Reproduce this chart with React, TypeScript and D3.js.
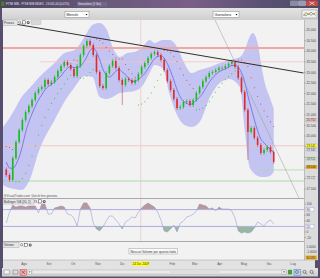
import React from "react";
import * as d3 from "d3";

// ---------------- data ----------------
const candleStart = "2009-07-10";
const candleStepDays = 4;
const firstOpen = 18420;
const closes = [
  18160, 17930, 18960, 19720, 20280, 20750, 21130, 21410, 21700, 22030,
  22220, 22310, 22640, 22450, 22550, 22780, 23070, 23300, 23490, 23350,
  23160, 22830, 23300, 23820, 24250, 24480, 24290, 23820, 23020, 22360,
  22260, 22970, 23300, 23540, 23210, 22640, 22410, 22690, 22640, 22500,
  22640, 22930, 23260, 23440, 23680, 23870, 23960, 23820, 23590, 23110,
  22590, 22170, 21750, 21320, 21370, 21600, 21650, 21460, 21700, 22030,
  22310, 22590, 22780, 22970, 23020, 23110, 23210, 23210, 23300, 23400,
  23490, 23260, 22740, 22080, 21230, 20190, 20380, 19910, 19580, 19200,
  19340, 19480, 19250, 18770,
];
const priorCloses = [19300, 19100, 18800, 18500];
const longWickIndex = [36, 75];
const longWickLow = [21460, 18870];

const bandDates = [
  "2009-07-06", "2009-07-14", "2009-07-20", "2009-07-29", "2009-08-08", "2009-08-20",
  "2009-09-08", "2009-09-20", "2009-10-03", "2009-10-15", "2009-10-25", "2009-11-03",
  "2009-11-12", "2009-11-19", "2009-11-28", "2009-12-07", "2009-12-16", "2009-12-26",
  "2010-01-04", "2010-01-10", "2010-01-20", "2010-01-29", "2010-02-07", "2010-02-16",
  "2010-02-25", "2010-03-07", "2010-03-20", "2010-04-01", "2010-04-13", "2010-04-26",
  "2010-05-02", "2010-05-08", "2010-05-12", "2010-05-18", "2010-05-23", "2010-05-27",
  "2010-06-02", "2010-06-07",
];
const bandUpper = [
  20425, 20849, 21226, 21840, 22264, 22783, 23443, 23915, 24057, 24670, 25236, 25330,
  25000, 24198, 23726, 23915, 23962, 24198, 24528, 24387, 24528, 24528, 24198, 23443,
  22972, 23113, 23255, 23443, 23585, 23726, 24057, 24670, 24858, 24387, 23255, 22500,
  21840, 21300,
];
const bandLower = [
  17689, 17547, 17500, 17453, 17925, 19340, 20755, 21604, 22311, 22830, 22780, 21840,
  21745, 21840, 22028, 22075, 22123, 22358, 22972, 23349, 23208, 21934, 20990, 20519,
  20425, 20660, 21840, 22500, 22689, 22311, 20283, 18538, 18302, 18113, 18066, 18066,
  18113, 18302,
];

const pctB = [
  32, 71, 96, 89, 93, 93, 89, 93, 93, 93,
  68, 100, 100, 64, 64, 86, 89, 93, 89, 64,
  61, 50, 21, 82, 104, 104, 86, 32, 11, 4,
  18, 39, 57, 57, 43, 29, 11, 36, 43, 54,
  50, 71, 86, 96, 104, 96, 89, 71, 43, 4,
  0, 11, 25, 0, 32, 39, 54, 57, 64, 75,
  100, 96, 93, 82, 86, 75, 89, 82, 82, 82,
  75, 50, 4, -4, 0, -4, 0, 14, 36, 29,
  21, 36, 43, 29,
];

const priceTicks = [17500, 18000, 18500, 19000, 19500, 20000, 20500, 21000, 21500, 22000, 22500, 23000, 23500, 24000, 24500, 25000];
const pctTicks = [100, 60, 40, 0, -20];
const pctLevels = [80, 20];
const pctLevelLabels = ["80", "20"];

const monthDates = ["2009-08-01", "2009-09-01", "2009-10-01", "2009-11-01", "2009-12-01", "2010-01-01", "2010-02-01", "2010-03-01", "2010-04-01", "2010-05-01", "2010-06-01", "2010-07-01"];
const monthLabels = ["Ago", "Set", "Ott", "Nov", "Dic", "Gen", "Feb", "Mar", "Apr", "Mag", "Giu", "Lug"];

const levelValues = [24150, 23500, 19541, 17877, 18400];
const levelStarts = ["2009-07-01", "2009-08-21", "2009-07-01", "2009-07-01", "2010-05-17"];
const levelColors = ["#f2a6a6", "#f2c4c4", "#f0bcbc", "#9ad49a", "#a8dca8"];
const levelWidths = [1.8, 0.8, 0.8, 0.8, 0.8];

const trendADates = ["2009-07-06", "2010-07-14"];
const trendAValues = [25377, 22972];
const trendBDates = ["2010-03-25", "2010-07-09"];
const trendBValues = [25566, 17028];

const crossDate = "2009-12-24";
const crossLabel = "24 Dic 2009";

const markerValues = [20750, 19541, 19340, 18920, 18540, 18020];
const markerFills = ["#f6c8c8", "#ffff30", "#e8e8fa", "#d6f0d6", "#f0a800", "#f8f8f8"];

const volLabels = ["1.0000", "-1.0000"];
const volLabelY = [248, 253];

// ---------------- helpers ----------------
const parse = d3.timeParse("%Y-%m-%d");
const fmtPrice = (v: number) => d3.format(",")(Math.round(v)).replace(/,/g, ".");
const FONT = "Liberation Sans, Arial, sans-serif";

function psar(highs: number[], lows: number[], initSar: number, step = 0.02, max = 0.2) {
  const out: { sar: number; up: boolean }[] = [];
  let up = false;
  let af = step;
  let ep = lows[0];
  let sar = initSar;
  out.push({ sar, up });
  for (let i = 1; i < highs.length; i++) {
    sar = sar + af * (ep - sar);
    if (up) {
      sar = Math.min(sar, lows[i - 1], lows[Math.max(0, i - 2)]);
      if (lows[i] < sar) { up = false; sar = ep; ep = lows[i]; af = step; }
      else if (highs[i] > ep) { ep = highs[i]; af = Math.min(af + step, max); }
    } else {
      sar = Math.max(sar, highs[i - 1], highs[Math.max(0, i - 2)]);
      if (highs[i] > sar) { up = true; sar = ep; ep = highs[i]; af = step; }
      else if (lows[i] < ep) { ep = lows[i]; af = Math.min(af + step, max); }
    }
    out.push({ sar, up });
  }
  return out;
}

export default function App() {
  const X0 = 3, X1 = 304;
  const MT = 20, MB = 198;
  const IT = 199, IB = 241;
  const VT = 242, VB = 260;

  const x = d3.scaleTime().domain([new Date(2009, 6, 1), new Date(2010, 7, 1)]).range([-0.97, 318]);
  const y = d3.scaleLinear().domain([17500, 25000]).range([189, 30]);
  const yb = d3.scaleLinear().domain([-20, 100]).range([237.6, 204]);

  const start = parse(candleStart)!;
  const candles = closes.map((c, i) => {
    const date = d3.timeDay.offset(start, i * candleStepDays);
    const open = i === 0 ? firstOpen : closes[i - 1];
    const k = longWickIndex.indexOf(i);
    const high = Math.max(open, c) + 90;
    const low = k >= 0 ? longWickLow[k] : Math.min(open, c) - 90;
    return { date, open, close: c, high, low };
  });

  const all = [...priorCloses, ...closes];
  const P = priorCloses.length;
  const ma = closes.map((_, i) => d3.mean(all.slice(i + P - 4, i + P + 1)) as number);

  const sar = psar(candles.map(d => d.high), candles.map(d => d.low), 19500, 0.03, 0.2);

  const band = bandDates.map((d, i) => ({ date: parse(d)!, hi: bandUpper[i], lo: bandLower[i] }));
  const bandArea = d3.area<any>().x(d => x(d.date)).y0(d => y(d.lo)).y1(d => y(d.hi)).curve(d3.curveMonotoneX)(band) || "";

  const maLine = d3.line<number>().x((_, i) => x(candles[i].date)).y(d => y(d)).curve(d3.curveMonotoneX)(ma) || "";

  const pctLine = d3.line<number>().x((_, i) => x(candles[i].date)).y(d => yb(d))(pctB) || "";
  const pctAreaHi = d3.area<number>().x((_, i) => x(candles[i].date)).y0(yb(80)).y1(d => yb(d))(pctB) || "";
  const pctAreaLo = d3.area<number>().x((_, i) => x(candles[i].date)).y0(yb(20)).y1(d => yb(d))(pctB) || "";

  const crossX = x(parse(crossDate)!);
  const visibleTicks = priceTicks.filter(v => markerValues.every(m => Math.abs(y(m) - y(v)) > 4.2));
  const visibleMonths = monthDates
    .map((d, i) => ({ xx: x(parse(d)!), label: monthLabels[i] }))
    .filter(m => Math.abs(m.xx - crossX) > 14);

  const iconRow = (x0: number, y0: number) => (
    <g>
      <circle cx={x0 + 1.6} cy={y0 + 2.2} r={1.1} fill="none" stroke="#555" strokeWidth={0.5} />
      <line x1={x0 + 2.4} y1={y0 + 3} x2={x0 + 3.3} y2={y0 + 4} stroke="#555" strokeWidth={0.5} />
      <rect x={x0 + 4.5} y={y0 + 0.8} width={3} height={3.2} fill="#fff" stroke="#444" strokeWidth={0.5} />
      <circle cx={x0 + 10.2} cy={y0 + 2.4} r={1.5} fill="#555" />
      <circle cx={x0 + 10.2} cy={y0 + 2.4} r={0.6} fill="#ddd" />
    </g>
  );

  return (
    <svg width={320} height={278} style={{ position: "fixed", left: 0, top: 0 }} fontFamily={FONT}>
      <defs>
        <linearGradient id="title" x1="0" x2="1" y1="0" y2="0">
          <stop offset="0" stopColor="#4b4460" />
          <stop offset="0.35" stopColor="#6a5a7c" />
          <stop offset="0.6" stopColor="#7a5e86" />
          <stop offset="0.8" stopColor="#5c5274" />
          <stop offset="1" stopColor="#4c4a66" />
        </linearGradient>
        <linearGradient id="tool" x1="0" x2="0" y1="0" y2="1">
          <stop offset="0" stopColor="#e4e4e4" />
          <stop offset="1" stopColor="#cfcfcf" />
        </linearGradient>
        <clipPath id="mainClip"><rect x={X0} y={MT} width={X1 - X0} height={MB - MT} /></clipPath>
        <clipPath id="indClip"><rect x={X0} y={IT} width={X1 - X0} height={IB - IT} /></clipPath>
        <clipPath id="above80"><rect x={X0} y={IT} width={X1 - X0} height={yb(80) - IT} /></clipPath>
        <clipPath id="below20"><rect x={X0} y={yb(20)} width={X1 - X0} height={IB - yb(20)} /></clipPath>
      </defs>

      {/* window frame */}
      <rect x={0} y={0} width={320} height={278} fill="#574e6e" />
      <rect x={0} y={0} width={320} height={8} fill="url(#title)" />
      <rect x={1} y={1.5} width={3.5} height={4.5} fill="#2a8a2a" />
      <rect x={2.2} y={2.5} width={1} height={3.5} fill="#e03030" />
      <text x={6} y={5.4} fontSize={2.8} fill="#e8e8f0">FTSE MIB - FTSE MIB INDEX - 19.541,00 (0,01%)</text>
      <rect x={77} y={1.8} width={30} height={4.8} fill="#7a7090" opacity={0.6} />
      <text x={78} y={5.4} fontSize={2.8} fill="#e8e8f0">Giornaliero (1 Giu)</text>
      <rect x={290} y={0.5} width={8} height={5.5} rx={1} fill="#8a8aa0" />
      <rect x={298} y={0.5} width={8} height={5.5} rx={1} fill="#9a9ab0" />
      <rect x={306} y={0.5} width={12} height={5.5} rx={1} fill="#c84848" />
      <line x1={309.5} y1={1.8} x2={314.5} y2={4.8} stroke="#fff" strokeWidth={0.6} />
      <line x1={314.5} y1={1.8} x2={309.5} y2={4.8} stroke="#fff" strokeWidth={0.6} />

      {/* top toolbar */}
      <rect x={2} y={8} width={316} height={12} fill="url(#tool)" />
      <rect x={65} y={11.5} width={24} height={6} fill="#fff" stroke="#8a8a8a" strokeWidth={0.5} />
      <text x={66.5} y={16} fontSize={3.4} fill="#222">Mensile</text>
      <path d="M85.5 14 L87.5 14 L86.5 15.4 Z" fill="#222" />
      <rect x={213} y={11.5} width={26} height={6} fill="#fff" stroke="#8a8a8a" strokeWidth={0.5} />
      <text x={214.5} y={16} fontSize={3.4} fill="#222">Giornaliero</text>
      <path d="M235.5 14 L237.5 14 L236.5 15.4 Z" fill="#222" />
      <rect x={302} y={10} width={15} height={8} fill="#f0f0f0" stroke="#909090" strokeWidth={0.5} />
      <path d="M303.5 16 L306 12.5 L308.5 15 L311 12 L313.5 14.5 L315.5 12.5" fill="none" stroke="#d04040" strokeWidth={0.6} />
      <path d="M303.5 14.5 L306 16 L308.5 13 L311 15.5 L313.5 13 L315.5 15.5" fill="none" stroke="#30a030" strokeWidth={0.6} />

      {/* right axis column */}
      <rect x={X1} y={MT} width={14} height={VB - MT} fill="#dcdcdc" />
      <line x1={X1 + 0.3} y1={MT} x2={X1 + 0.3} y2={VB} stroke="#9a9a9a" strokeWidth={0.6} />

      {/* ---------- main panel ---------- */}
      <rect x={X0} y={MT} width={X1 - X0} height={MB - MT} fill="#f2f2f2" />
      <g clipPath="url(#mainClip)">
        <path d={bandArea} fill="#c4c4f2" />
        {levelValues.map((v, i) => (
          <line key={"lv" + i} x1={Math.max(X0, x(parse(levelStarts[i])!))} x2={X1} y1={y(v)} y2={y(v)} stroke={levelColors[i]} strokeWidth={levelWidths[i]} />
        ))}
        <line x1={crossX} x2={crossX} y1={MT} y2={MB} stroke="#e8c4c4" strokeWidth={0.7} />
        <path d={maLine} fill="none" stroke="#4a4ae0" strokeWidth={0.6} />
        {candles.map((d, i) => {
          const up = d.close >= d.open;
          const col = up ? "#14c014" : "#e02a2a";
          const cx = x(d.date);
          const top = y(Math.max(d.open, d.close));
          const bot = y(Math.min(d.open, d.close));
          return (
            <g key={"c" + i}>
              <line x1={cx} x2={cx} y1={y(d.high)} y2={y(d.low)} stroke={up ? "#109010" : "#a02020"} strokeWidth={0.45} />
              <rect x={cx - 0.8} y={top} width={1.6} height={Math.max(0.6, bot - top)} fill={col} />
            </g>
          );
        })}
        {sar.map((s, i) => (
          <circle key={"s" + i} cx={x(candles[i].date)} cy={y(s.sar)} r={0.5} fill={s.up ? "#22c022" : "#e03030"} />
        ))}
        <line x1={x(parse(trendADates[0])!)} y1={y(trendAValues[0])} x2={x(parse(trendADates[1])!)} y2={y(trendAValues[1])} stroke="#1a1a1a" strokeWidth={0.9} />
        <line x1={x(parse(trendBDates[0])!)} y1={y(trendBValues[0])} x2={x(parse(trendBDates[1])!)} y2={y(trendBValues[1])} stroke="#9a9a9a" strokeWidth={0.5} />
      </g>
      <text x={X0 + 0.5} y={196.6} fontSize={3} fill="#555">@VisualTrader.com: Dati di fine giornata</text>
      <rect x={X0} y={MT} width={14.5} height={5.2} fill="#e6e6e6" stroke="#9a9a9a" strokeWidth={0.4} />
      <text x={X0 + 1} y={MT + 4} fontSize={3.2} fill="#333">Prezzo</text>
      {iconRow(18, MT)}
      <rect x={31} y={MT + 0.6} width={10} height={4} fill="#d8d8d8" stroke="#aaa" strokeWidth={0.3} />

      {/* price axis */}
      {priceTicks.map((v) => (
        <line key={"ptl" + v} x1={X1 + 0.5} x2={X1 + 2} y1={y(v)} y2={y(v)} stroke="#666" strokeWidth={0.4} />
      ))}
      {visibleTicks.map((v) => (
        <text key={"pt" + v} x={X1 + 2.4} y={y(v) + 1.2} fontSize={3.1} fill="#444">{fmtPrice(v)}</text>
      ))}
      {markerValues.map((v, i) => (
        <g key={"mk" + i}>
          <rect x={X1 + 2} y={y(v) - 1.8} width={11} height={3.6} fill={markerFills[i]} stroke="#9a9a9a" strokeWidth={0.3} />
          <text x={X1 + 2.6} y={y(v) + 1.05} fontSize={2.9} fill="#333">{fmtPrice(v)}</text>
        </g>
      ))}

      {/* panel separators */}
      <rect x={X0} y={MB} width={X1 - X0} height={1} fill="#a8a8a8" />

      {/* ---------- Bollinger %B panel ---------- */}
      <rect x={X0} y={IT} width={X1 - X0} height={IB - IT} fill="#f2f2f2" />
      <g clipPath="url(#indClip)">
        <line x1={crossX} x2={crossX} y1={IT} y2={IB} stroke="#e8c4c4" strokeWidth={0.7} />
        <path d={pctAreaHi} fill="#b89898" clipPath="url(#above80)" />
        <path d={pctAreaLo} fill="#98b8a0" clipPath="url(#below20)" />
        {pctLevels.map((v) => (
          <line key={"pl" + v} x1={X0} x2={X1} y1={yb(v)} y2={yb(v)} stroke="#9a9ae0" strokeWidth={0.7} />
        ))}
        <path d={pctLine} fill="none" stroke="#8c8cd4" strokeWidth={0.5} />
      </g>
      <rect x={X0} y={IT} width={31} height={5} fill="#e6e6e6" stroke="#9a9a9a" strokeWidth={0.4} />
      <text x={X0 + 1} y={IT + 3.8} fontSize={3} fill="#333">Bollinger %B (20, 2)</text>
      {iconRow(34, IT)}
      {pctTicks.map((v) => (
        <g key={"bt" + v}>
          <line x1={X1 + 0.5} x2={X1 + 2} y1={yb(v)} y2={yb(v)} stroke="#666" strokeWidth={0.4} />
          <text x={X1 + 2.6} y={yb(v) + 1.2} fontSize={3.1} fill="#444">{v}</text>
        </g>
      ))}
      {pctLevels.map((v, i) => (
        <g key={"bl" + v}>
          <rect x={X1 + 2} y={yb(v) - 2} width={8} height={4} fill="#f8f8f8" stroke="#9a9ae0" strokeWidth={0.4} />
          <text x={X1 + 2.8} y={yb(v) + 1.2} fontSize={3.1} fill="#444">{pctLevelLabels[i]}</text>
        </g>
      ))}
      <rect x={X0} y={IB} width={X1 - X0} height={1} fill="#a8a8a8" />

      {/* ---------- Volume panel ---------- */}
      <rect x={X0} y={VT} width={X1 - X0} height={VB - VT} fill="#f2f2f2" />
      <rect x={X0} y={VT + 0.5} width={16} height={5} fill="#e6e6e6" stroke="#9a9a9a" strokeWidth={0.4} />
      <text x={X0 + 1} y={VT + 4.2} fontSize={3} fill="#333">Volume</text>
      {iconRow(20, VT + 0.5)}
      <rect x={129} y={248.5} width={48.5} height={5.5} fill="#fafafa" stroke="#8a8a8a" strokeWidth={0.4} />
      <text x={130.5} y={252.5} fontSize={3} fill="#333" textLength={45.5} lengthAdjust="spacingAndGlyphs">Nessun Volume per questo titolo</text>
      {volLabels.map((t, i) => (
        <text key={"vl" + i} x={X1 + 2.4} y={volLabelY[i]} fontSize={3} fill="#444">{t}</text>
      ))}
      <rect x={X1 + 1.5} y={255.5} width={11.5} height={4} fill="#f0b020" />
      <text x={X1 + 2.2} y={258.6} fontSize={3} fill="#333">50.585</text>

      {/* ---------- date axis ---------- */}
      <rect x={X0} y={VB} width={315 - X0} height={8} fill="#e2e2e2" />
      <line x1={X0} x2={318} y1={VB} y2={VB} stroke="#a0a0a0" strokeWidth={0.5} />
      {visibleMonths.map((m, i) => (
        <text key={"m" + i} x={m.xx} y={265} fontSize={3.2} fill="#555" textAnchor="middle">{m.label}</text>
      ))}
      <rect x={crossX - 8.5} y={261.5} width={17} height={4.6} fill="#ffff20" />
      <text x={crossX} y={265} fontSize={3.1} fill="#333" textAnchor="middle">{crossLabel}</text>

      {/* ---------- bottom toolbar ---------- */}
      <rect x={2} y={268} width={316} height={8.5} fill="url(#tool)" />
      <rect x={4} y={270} width={5.5} height={4} fill="#f4f4f4" stroke="#666" strokeWidth={0.4} />
      <rect x={13} y={270} width={5} height={4} fill="#ddd" stroke="#555" strokeWidth={0.4} />
      <rect x={20} y={269.3} width={6.5} height={6} fill="#e8b0b0" stroke="#b04040" strokeWidth={0.4} />
      <line x1={21.5} y1={270.6} x2={25} y2={274} stroke="#d02020" strokeWidth={0.7} />
      <line x1={25} y1={270.6} x2={21.5} y2={274} stroke="#d02020" strokeWidth={0.7} />
      <rect x={28} y={270} width={3.5} height={4} fill="#fff" stroke="#777" strokeWidth={0.3} />
      <path d="M28.9 271.6 L30.6 271.6 L29.75 272.8 Z" fill="#222" />
      <rect x={32} y={270} width={254} height={4} fill="#eaeaea" stroke="#a8a8a8" strokeWidth={0.4} />
      <rect x={170} y={270.4} width={50} height={3.2} fill="#dedede" />
      <rect x={282} y={270} width={4} height={4} fill="#fff" stroke="#777" strokeWidth={0.3} />
      <path d="M282.9 271.6 L285.1 271.6 L284 272.8 Z" fill="#222" />
      <rect x={288} y={269.8} width={4} height={4.6} fill="#40a040" />
      <rect x={294} y={269.2} width={6.5} height={6} fill="#bcd4f0" stroke="#4a78c0" strokeWidth={0.5} />
      <circle cx={297} cy={272} r={1.5} fill="none" stroke="#333" strokeWidth={0.5} />
      <circle cx={304.5} cy={271.8} r={1.5} fill="none" stroke="#333" strokeWidth={0.5} />
      <line x1={305.6} y1={272.9} x2={306.8} y2={274.2} stroke="#333" strokeWidth={0.6} />
      <circle cx={311.5} cy={271.8} r={1.5} fill="none" stroke="#333" strokeWidth={0.5} />
      <line x1={312.6} y1={272.9} x2={313.8} y2={274.2} stroke="#333" strokeWidth={0.6} />
    </svg>
  );
}
